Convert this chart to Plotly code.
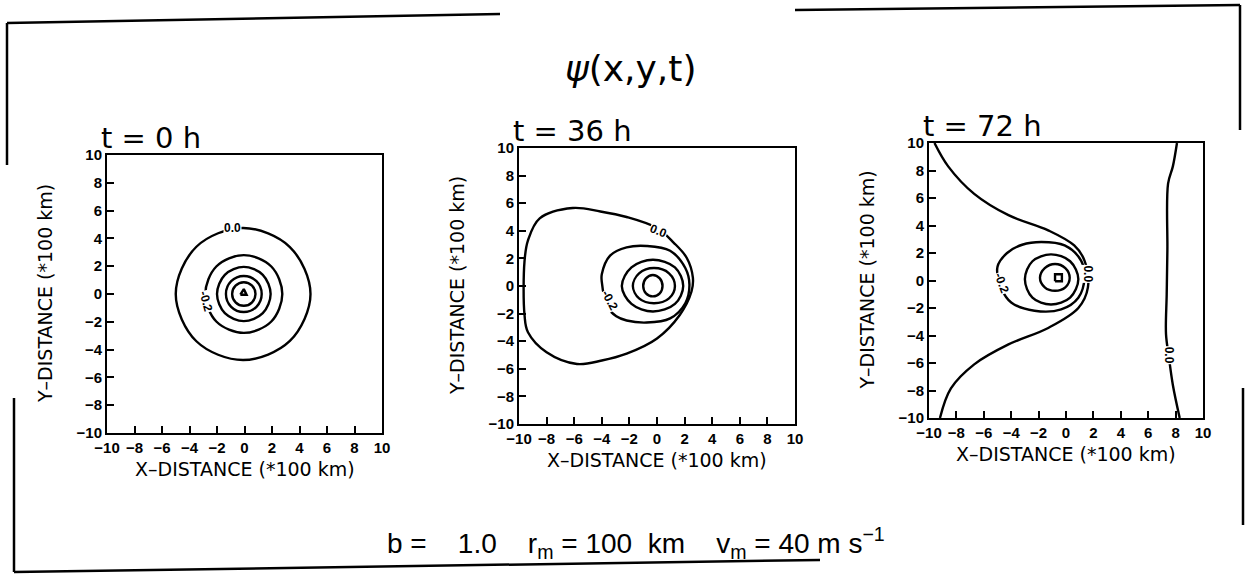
import plotly.graph_objects as go

W, H = 1246, 574

# ---------------- data ----------------
TICKS = [-10, -8, -6, -4, -2, 0, 2, 4, 6, 8, 10]
PANEL_TITLES = ["t = 0 h", "t = 36 h", "t = 72 h"]

# t = 0 h
T0_OUTER_X = [-0.1, 3.3, 4.8, 3.3, -0.1, -3.5, -5.0, -3.5, -0.1]
T0_OUTER_Y = [4.75, 3.38, 0.0, -3.38, -4.75, -3.4, 0.0, 3.4, 4.75]
T0_M02_X = [-0.05, 1.95, 2.75, 1.95, -0.05, -2.05, -2.85, -2.05, -0.05]
T0_M02_Y = [2.8, 1.98, 0.0, -1.98, -2.8, -1.98, 0.0, 1.98, 2.8]
T0_C3_X = [-0.05, 1.33, 1.9, 1.33, -0.05, -1.43, -2.0, -1.43, -0.05]
T0_C3_Y = [1.95, 1.38, 0.0, -1.38, -1.95, -1.38, 0.0, 1.38, 1.95]
T0_C4_X = [-0.05, 0.87, 1.25, 0.87, -0.05, -0.97, -1.35, -0.97, -0.05]
T0_C4_Y = [1.3, 0.92, 0.0, -0.92, -1.3, -0.92, 0.0, 0.92, 1.3]
T0_C5_X = [-0.05, 0.55, 0.8, 0.55, -0.05, -0.65, -0.9, -0.65, -0.05]
T0_C5_Y = [0.85, 0.6, 0.0, -0.6, -0.85, -0.6, 0.0, 0.6, 0.85]
T0_C6_X = [-0.3, 0.15, -0.05, -0.3]
T0_C6_Y = [-0.05, -0.05, 0.35, -0.05]

# t = 36 h
T36_OUTER_X = [-9.6, -9.35, -8.5, -6.1, -4.1, -2.2, 0.0, 1.2, 2.15, 2.6, 2.5, 1.65, 0.0,
               -2.2, -4.0, -5.8, -8.0, -9.35, -9.6, -9.6]
T36_OUTER_Y = [1.8, 3.3, 4.9, 5.65, 5.4, 5.0, 4.2, 3.15, 2.05, 0.6, -0.4, -2.1, -3.8,
               -4.9, -5.4, -5.65, -4.8, -3.35, -2.1, 1.8]
T36_M02_X = [-4.0, -4.0, -3.4, -2.2, -0.75, 0.95, 2.05, 2.35, 2.05, 0.95, -0.75, -2.2,
             -2.95, -3.6, -4.0]
T36_M02_Y = [0.3, 0.85, 2.2, 2.8, 2.9, 2.55, 1.3, 0.1, -1.25, -2.35, -2.65, -2.5,
             -2.2, -1.5, 0.3]
T36_C3_X = [-0.3, 1.3, 1.9, 1.3, -0.3, -1.85, -2.55, -1.85, -0.3]
T36_C3_Y = [1.9, 1.35, 0.0, -1.3, -1.85, -1.3, 0.0, 1.35, 1.9]
T36_C4_X = [-0.22, 0.87, 1.3, 0.87, -0.22, -1.3, -1.75, -1.3, -0.22]
T36_C4_Y = [1.3, 0.92, 0.0, -0.9, -1.25, -0.9, 0.0, 0.92, 1.3]
T36_C5_X = [-0.3, 0.2, 0.4, 0.2, -0.3, -0.8, -1.0, -0.8, -0.3]
T36_C5_Y = [0.8, 0.55, 0.0, -0.53, -0.75, -0.53, 0.0, 0.55, 0.8]

# t = 72 h
T72_LEFT_X = [-9.6, -8.6, -6.7, -4.2, -1.3, 0.6, 1.35, 1.6, 0.9, -1.3, -4.2, -6.7, -8.4, -9.2]
T72_LEFT_Y = [10.0, 8.3, 6.3, 4.75, 3.65, 2.55, 1.45, -0.5, -2.0, -3.45, -4.65, -6.1, -7.85, -10.0]
T72_RIGHT_X = [8.1, 7.8, 7.45, 7.4, 7.35, 7.3, 7.5, 7.8, 8.3]
T72_RIGHT_Y = [10.0, 8.3, 7.05, 2.2, -1.0, -3.9, -5.5, -7.6, -10.0]
T72_M02_X = [-5.0, -4.3, -3.2, -1.8, -0.1, 1.1, 1.35, 0.9, -0.35, -2.3, -4.0, -4.7, -5.0]
T72_M02_Y = [1.0, 2.0, 2.6, 2.8, 2.55, 1.45, 0.2, -1.25, -2.1, -2.2, -1.6, -0.6, 1.0]
T72_C3_X = [-1.1, 0.3, 0.9, 0.3, -1.1, -2.45, -3.0, -2.45, -1.1]
T72_C3_Y = [1.9, 1.4, 0.1, -1.25, -1.75, -1.25, 0.1, 1.4, 1.9]
T72_C4_X = [-0.8, -0.05, 0.27, -0.05, -0.8, -1.55, -1.9, -1.55, -0.8]
T72_C4_Y = [1.2, 0.9, 0.2, -0.5, -0.75, -0.5, 0.2, 0.9, 1.2]
T72_C5_X = [-0.8, -0.3, -0.3, -0.8, -0.8]
T72_C5_Y = [-0.05, -0.05, 0.45, 0.45, -0.05]

# contour labels
LABEL_PANEL = [0, 0, 1, 1, 2, 2, 2]
LABEL_X = [-0.9, -2.8, 0.1, -3.45, 1.6, -4.7, 7.5]
LABEL_Y = [4.75, -0.5, 4.0, -1.05, 0.45, -0.2, -5.45]
LABEL_TEXT = ["0.0", "-0.2", "0.0", "-0.2", "0.0", "-0.2", "0.0"]
LABEL_ANGLE = [0, 75, 22, 62, 90, 70, 90]

CONTOURS = [
    [(T0_OUTER_X, T0_OUTER_Y), (T0_M02_X, T0_M02_Y), (T0_C3_X, T0_C3_Y),
     (T0_C4_X, T0_C4_Y), (T0_C5_X, T0_C5_Y), (T0_C6_X, T0_C6_Y)],
    [(T36_OUTER_X, T36_OUTER_Y), (T36_M02_X, T36_M02_Y), (T36_C3_X, T36_C3_Y),
     (T36_C4_X, T36_C4_Y), (T36_C5_X, T36_C5_Y)],
    [(T72_LEFT_X, T72_LEFT_Y), (T72_RIGHT_X, T72_RIGHT_Y), (T72_M02_X, T72_M02_Y),
     (T72_C3_X, T72_C3_Y), (T72_C4_X, T72_C4_Y), (T72_C5_X, T72_C5_Y)],
]

# ---------------- layout geometry (pixels) ----------------
PANEL_PX = [(107, 382, 155, 433), (519, 795, 148, 424), (929, 1203, 143, 418)]


def fx(p):
    return p / W


def fy(p):
    return 1 - p / H


fig = go.Figure()
TICK_FONT = dict(family="Liberation Sans, Arial, sans-serif", size=15, color="black", weight="bold")
LABEL_FONT = "DejaVu Sans, sans-serif"

for i, curves in enumerate(CONTOURS):
    suffix = "" if i == 0 else str(i + 1)
    for (cx, cy) in curves:
        shape = "linear" if len(cx) <= 5 else "spline"
        fig.add_trace(go.Scatter(
            x=cx, y=cy, mode="lines", xaxis="x" + suffix, yaxis="y" + suffix,
            line=dict(color="black", width=2.4, shape=shape, smoothing=1.0),
            showlegend=False, hoverinfo="skip"))
    x0, x1, y0, y1 = PANEL_PX[i]
    ax = dict(range=[-10, 10], tickvals=TICKS, showgrid=False, zeroline=False,
              showline=True, mirror=True, linecolor="black", linewidth=2,
              ticks="inside", ticklen=7, tickwidth=1.5, tickcolor="black",
              tickfont=TICK_FONT)
    fig.layout["xaxis" + suffix] = dict(ax, domain=[fx(x0), fx(x1)], anchor="y" + suffix)
    fig.layout["yaxis" + suffix] = dict(ax, domain=[fy(y1), fy(y0)], anchor="x" + suffix)

    fig.add_annotation(xref="paper", yref="paper", x=fx(x0 - 8), y=fy(y0 + 2),
                       xanchor="left", yanchor="bottom", showarrow=False,
                       text=PANEL_TITLES[i], font=dict(family=LABEL_FONT, size=29, color="black"))
    fig.add_annotation(xref="paper", yref="paper", x=fx((x0 + x1) / 2), y=fy(y1 + 36),
                       xanchor="center", yanchor="middle", showarrow=False,
                       text="X–DISTANCE (*100 km)",
                       font=dict(family=LABEL_FONT, size=19, color="black"))
    fig.add_annotation(xref="paper", yref="paper", x=fx(x0 - 62), y=fy((y0 + y1) / 2),
                       xanchor="center", yanchor="middle", showarrow=False, textangle=-90,
                       text="Y–DISTANCE (*100 km)",
                       font=dict(family=LABEL_FONT, size=19, color="black"))

for p, lx, ly, lt, la in zip(LABEL_PANEL, LABEL_X, LABEL_Y, LABEL_TEXT, LABEL_ANGLE):
    suffix = "" if p == 0 else str(p + 1)
    fig.add_annotation(xref="x" + suffix, yref="y" + suffix, x=lx, y=ly, text=lt,
                       showarrow=False, textangle=la, bgcolor="white", borderpad=0,
                       font=dict(family="Liberation Sans, sans-serif", size=12,
                                 color="black", weight="bold"))

fig.add_annotation(xref="paper", yref="paper", x=fx(630), y=fy(68), showarrow=False,
                   xanchor="center", yanchor="middle", text="<i>ψ</i>(x,y,t)",
                   font=dict(family=LABEL_FONT, size=36, color="black"))
NB = "\u00a0"
fig.add_annotation(xref="paper", yref="paper", x=fx(385), y=fy(543), showarrow=False,
                   xanchor="left", yanchor="middle",
                   text=(f"b ={NB}{NB}{NB}{NB}1.0{NB}{NB}{NB}{NB}r<sub>m</sub> = 100{NB}{NB}km"
                         f"{NB}{NB}{NB}{NB}v<sub>m</sub> = 40 m s<sup>−1</sup>"),
                   font=dict(family="Liberation Sans, sans-serif", size=28, color="black"))

FRAME = [((7, 23), (500, 14)), ((7, 23), (7, 165)), ((14, 398), (14, 572)),
         ((14, 572), (820, 560)), ((795, 10), (1240, 5)), ((1240, 5), (1240, 130)),
         ((1243, 388), (1243, 525))]
for (a, b) in FRAME:
    fig.add_shape(type="line", xref="paper", yref="paper",
                  x0=fx(a[0]), y0=fy(a[1]), x1=fx(b[0]), y1=fy(b[1]),
                  line=dict(color="black", width=2.5))

fig.update_layout(width=W, height=H, margin=dict(l=0, r=0, t=0, b=0, autoexpand=False),
                  paper_bgcolor="white", plot_bgcolor="white", showlegend=False)

fig.write_html("out.html", config={"displayModeBar": False},
               post_script="document.body.style.margin='0';document.body.style.padding='0';"
                           "document.body.style.overflow='hidden';")
